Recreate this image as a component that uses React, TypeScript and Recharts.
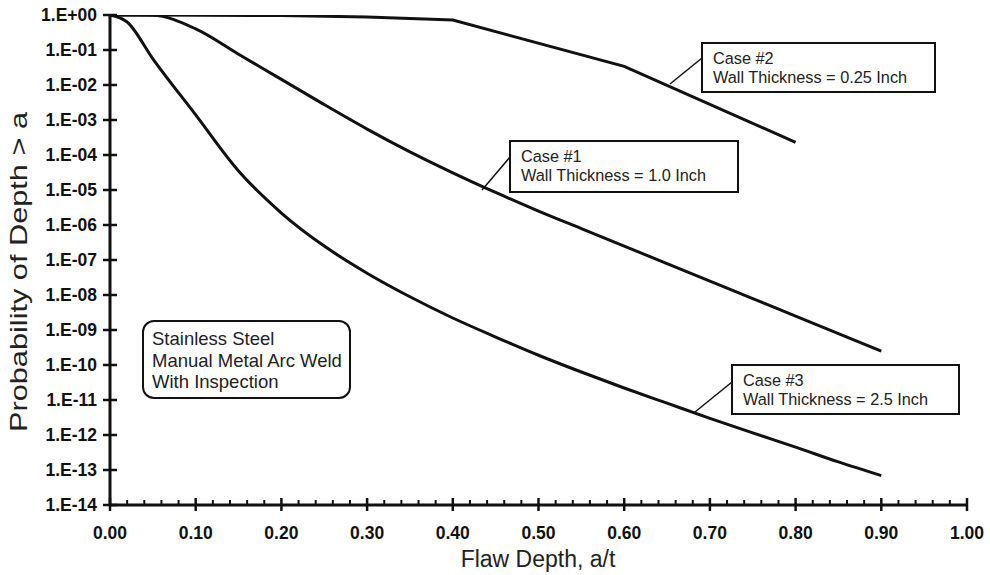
import { LineChart, Line, XAxis, YAxis } from 'recharts'

// flaw depth a/t where the curves were read
const flawDepth = [0, 0.02, 0.05, 0.1, 0.15, 0.2, 0.25, 0.3, 0.35, 0.4, 0.45, 0.5, 0.55, 0.6, 0.65, 0.7, 0.75, 0.8, 0.85, 0.9]

// Case #1, wall thickness 1.0 inch
const case1 = [1, 1, 0.98, 0.4, 7.6e-2, 1.45e-2, 2.75e-3, 5.5e-4, 1.23e-4, 3.1e-5, 8.5e-6, 2.5e-6, 7.9e-7, 2.5e-7, 7.9e-8, 2.5e-8, 7.9e-9, 2.5e-9, 7.9e-10, 2.5e-10]
// Case #2, wall thickness 0.25 inch (only a few points, straight segments between)
const case2 = [1, null, 1, 0.99, null, 0.96, null, 0.88, null, 0.72, null, null, null, 3.4e-2, null, null, null, 2.3e-4, null, null]
// Case #3, wall thickness 2.5 inch
const case3 = [1, 0.63, 5.6e-2, 1.4e-3, 3.5e-5, 2.2e-6, 2.5e-7, 4.2e-8, 8.9e-9, 2.2e-9, 6.3e-10, 1.9e-10, 6.3e-11, 2.2e-11, 8.1e-12, 3.0e-12, 1.15e-12, 4.5e-13, 1.7e-13, 6.9e-14]

const yTicks = [1, 1e-1, 1e-2, 1e-3, 1e-4, 1e-5, 1e-6, 1e-7, 1e-8, 1e-9, 1e-10, 1e-11, 1e-12, 1e-13, 1e-14]
const xTicks = Array.from({ length: 51 }, (_, i) => Math.round(i * 2) / 100)

const data = flawDepth.map((x, i) => ({ x, case1: case1[i], case2: case2[i], case3: case3[i] }))

const FONT = '"Liberation Sans", Arial, Helvetica, sans-serif'
const INK = '#111'

const fmtY = (v: number) => {
  const k = Math.round(-Math.log10(v))
  return k === 0 ? '1.E+00' : `1.E-${String(k).padStart(2, '0')}`
}

const XTick = (props: any) => {
  const { x, y, payload } = props
  const v = payload.value
  const major = Math.round(v * 100) % 10 === 0
  return (
    <g>
      {major ? (
        <line x1={x} x2={x} y1={y - 7} y2={y + 6} stroke={INK} strokeWidth={2.5} />
      ) : (
        <line x1={x} x2={x} y1={y - 5} y2={y} stroke={INK} strokeWidth={2} />
      )}
      {major && (
        <text x={x} y={y + 34} textAnchor="middle" fontFamily={FONT} fontWeight="bold" fontSize={17.5} fill={INK}>
          {v.toFixed(2)}
        </text>
      )}
    </g>
  )
}

const YTick = (props: any) => {
  const { x, y, payload } = props
  return (
    <g>
      <line x1={x - 7} x2={x + 7} y1={y} y2={y} stroke={INK} strokeWidth={2.5} />
      <text x={x - 13} y={y + 6} textAnchor="end" fontFamily={FONT} fontWeight="bold" fontSize={17.5} fill={INK}>
        {fmtY(payload.value)}
      </text>
    </g>
  )
}

function Callout({ box, from, to, lines }: { box: [number, number, number, number]; from: [number, number]; to: [number, number]; lines: string[] }) {
  const [bx, by, bw, bh] = box
  return (
    <g>
      <line x1={from[0]} y1={from[1]} x2={to[0]} y2={to[1]} stroke={INK} strokeWidth={1.5} />
      <rect x={bx} y={by} width={bw} height={bh} fill="#fff" stroke={INK} strokeWidth={2} />
      {lines.map((t, i) => (
        <text key={i} x={bx + 11} y={by + 21 + i * 19} fontFamily={FONT} fontSize={16.3} fill="#222">
          {t}
        </text>
      ))}
    </g>
  )
}

export default function App() {
  return (
    <div style={{ position: 'absolute', left: 0, top: 0, width: 990, height: 575, background: '#fff' }}>
      <LineChart width={990} height={575} data={data} margin={{ top: 15, right: 23, bottom: 0, left: 0 }}>
        <XAxis
          dataKey="x"
          type="number"
          domain={[0, 1]}
          ticks={xTicks}
          interval={0}
          height={70}
          tickSize={0}
          tickMargin={0}
          tickLine={false}
          tick={<XTick />}
          axisLine={{ stroke: INK, strokeWidth: 3 }}
        />
        <XAxis xAxisId="top" orientation="top" type="number" domain={[0, 1]} height={0} tick={false} tickLine={false} axisLine={{ stroke: INK, strokeWidth: 3 }} />
        <YAxis
          type="number"
          scale="log"
          domain={[1e-14, 1]}
          ticks={yTicks}
          interval={0}
          width={110}
          tickSize={0}
          tickMargin={0}
          tickLine={false}
          tick={<YTick />}
          axisLine={{ stroke: INK, strokeWidth: 3 }}
          allowDataOverflow
        />
        <YAxis yAxisId="right" orientation="right" type="number" domain={[0, 1]} width={0} tick={false} tickLine={false} axisLine={{ stroke: INK, strokeWidth: 3 }} />
        <Line dataKey="case1" type="monotone" stroke={INK} strokeWidth={3} dot={false} isAnimationActive={false} />
        <Line dataKey="case2" type="linear" stroke={INK} strokeWidth={3} dot={false} connectNulls isAnimationActive={false} />
        <Line dataKey="case3" type="monotone" stroke={INK} strokeWidth={3} dot={false} isAnimationActive={false} />
      </LineChart>
      <svg width={990} height={575} style={{ position: 'absolute', left: 0, top: 0, pointerEvents: 'none' }}>
        <Callout box={[702, 43, 233, 49]} from={[702, 58]} to={[670, 84]} lines={['Case #2', 'Wall Thickness = 0.25 Inch']} />
        <Callout box={[510, 141, 228, 51]} from={[510, 157]} to={[482, 190]} lines={['Case #1', 'Wall Thickness = 1.0 Inch']} />
        <Callout box={[732, 365, 227, 49]} from={[732, 382]} to={[695, 412]} lines={['Case #3', 'Wall Thickness = 2.5 Inch']} />
        <rect x={143} y={321} width={207} height={77} rx={11} fill="#fff" stroke={INK} strokeWidth={2} />
        {['Stainless Steel', 'Manual Metal Arc Weld', 'With Inspection'].map((t, i) => (
          <text key={t} x={152} y={345 + i * 21.5} fontFamily={FONT} fontSize={18.5} fill="#222">
            {t}
          </text>
        ))}
        <text x={538} y={567} textAnchor="middle" fontFamily={FONT} fontSize={23} fill="#222">
          Flaw Depth, a/t
        </text>
        <text
          transform="translate(27, 272) rotate(-90)"
          textAnchor="middle"
          fontFamily={FONT}
          fontSize={24}
          textLength={320}
          lengthAdjust="spacingAndGlyphs"
          fill="#222"
        >
          Probability of Depth &gt; a
        </text>
      </svg>
    </div>
  )
}
